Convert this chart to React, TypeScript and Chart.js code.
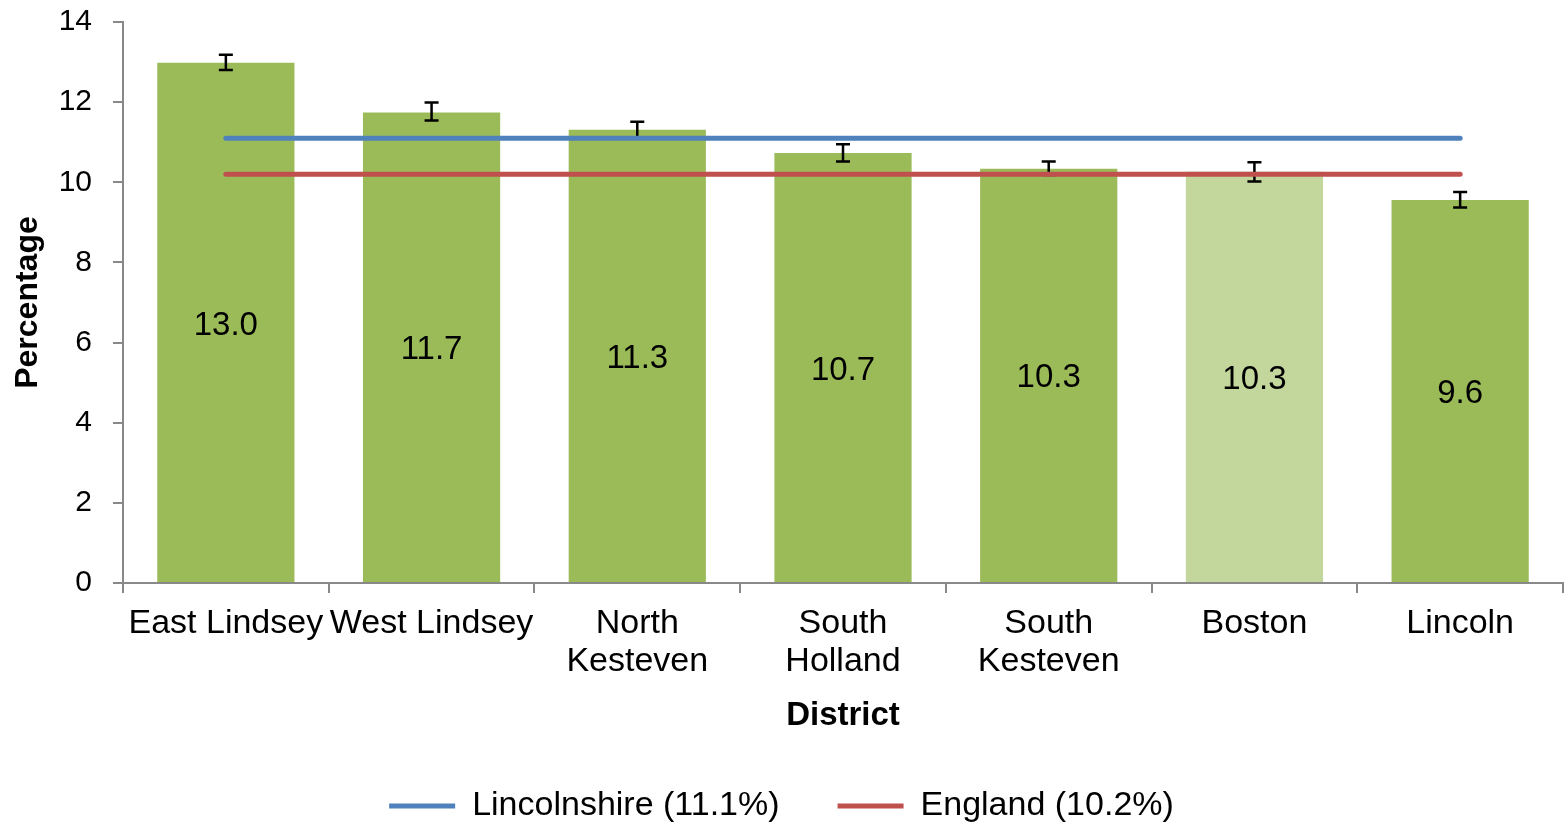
import React, { useEffect, useRef } from "react";
import { Chart, registerables } from "chart.js";

Chart.register(...registerables);

const FONT = "'Liberation Sans', Arial, sans-serif";

const categories: (string | string[])[] = [
  "East Lindsey",
  "West Lindsey",
  ["North", "Kesteven"],
  ["South", "Holland"],
  ["South", "Kesteven"],
  "Boston",
  "Lincoln",
];
const districtValues = [12.98, 11.74, 11.31, 10.73, 10.34, 10.26, 9.56];
const errorLower = [12.8, 11.54, 11.11, 10.52, 10.18, 10.02, 9.37];
const errorUpper = [13.18, 11.99, 11.51, 10.95, 10.52, 10.5, 9.76];
const barColors = ["#9BBB59", "#9BBB59", "#9BBB59", "#9BBB59", "#9BBB59", "#C3D69B", "#9BBB59"];
const lincolnshireLine = [11.1, 11.1, 11.1, 11.1, 11.1, 11.1, 11.1];
const englandLine = [10.2, 10.2, 10.2, 10.2, 10.2, 10.2, 10.2];
const lincolnshireLabel = "Lincolnshire (11.1%)";
const englandLabel = "England (10.2%)";
const yMin = 0;
const yMax = 14;
const yStep = 2;

const errorBarPlugin = {
  id: "errorBars",
  afterDatasetDraw(chart: any, args: any) {
    if (args.index !== 0) return;
    const ctx = chart.ctx;
    const yScale = chart.scales.y;
    const meta = chart.getDatasetMeta(0);
    ctx.save();
    ctx.strokeStyle = "#000";
    ctx.lineWidth = 2.5;
    meta.data.forEach((bar: any, i: number) => {
      const x = bar.x;
      const yt = yScale.getPixelForValue(errorUpper[i]);
      const yb = yScale.getPixelForValue(errorLower[i]);
      const cap = 7;
      ctx.beginPath();
      ctx.moveTo(x, yt);
      ctx.lineTo(x, yb);
      ctx.moveTo(x - cap, yt);
      ctx.lineTo(x + cap, yt);
      ctx.moveTo(x - cap, yb);
      ctx.lineTo(x + cap, yb);
      ctx.stroke();
    });
    ctx.restore();
  },
};

const dataLabelPlugin = {
  id: "dataLabels",
  afterDatasetsDraw(chart: any) {
    const ctx = chart.ctx;
    const meta = chart.getDatasetMeta(0);
    ctx.save();
    ctx.fillStyle = "#000";
    ctx.font = `33px ${FONT}`;
    ctx.textAlign = "center";
    ctx.textBaseline = "middle";
    meta.data.forEach((bar: any, i: number) => {
      const y = (bar.y + bar.base) / 2 + 3;
      ctx.fillText(districtValues[i].toFixed(1), bar.x, y);
    });
    ctx.restore();
  },
};

export default function App() {
  const canvasRef = useRef<HTMLCanvasElement | null>(null);

  useEffect(() => {
    if (!canvasRef.current) return;
    Chart.defaults.font.family = FONT;
    Chart.defaults.color = "#000";
    const chart = new Chart(canvasRef.current, {
      type: "bar",
      data: {
        labels: categories as any,
        datasets: [
          {
            type: "bar",
            label: "District",
            data: districtValues,
            backgroundColor: barColors,
            borderWidth: 0,
            categoryPercentage: 1,
            barPercentage: 0.667,
            order: 3,
          } as any,
          {
            type: "line",
            label: lincolnshireLabel,
            data: lincolnshireLine,
            borderColor: "#4F81BD",
            backgroundColor: "#4F81BD",
            borderWidth: 5,
            borderCapStyle: "round",
            pointRadius: 0,
            pointHoverRadius: 0,
            pointStyle: "line",
            fill: false,
            order: 1,
          } as any,
          {
            type: "line",
            label: englandLabel,
            data: englandLine,
            borderColor: "#C0504D",
            backgroundColor: "#C0504D",
            borderWidth: 5,
            borderCapStyle: "round",
            pointRadius: 0,
            pointHoverRadius: 0,
            pointStyle: "line",
            fill: false,
            order: 2,
          } as any,
        ],
      },
      options: {
        responsive: false,
        animation: false,
        events: [],
        layout: { padding: { top: 22, right: 1, left: 0, bottom: 0 } },
        scales: {
          x: {
            type: "category",
            offset: true,
            grid: {
              offset: true,
              drawOnChartArea: false,
              drawTicks: true,
              tickLength: 10,
              color: "#898989",
              lineWidth: 2,
            },
            border: { display: true, color: "#898989", width: 2 },
            ticks: {
              font: { size: 34, family: FONT, lineHeight: 1.12 },
              color: "#000",
              padding: 12,
              maxRotation: 0,
              autoSkip: false,
            },
            title: {
              display: true,
              text: "District",
              font: { size: 33, weight: "bold", family: FONT },
              color: "#000",
              padding: { top: 0, bottom: -5 },
            },
            afterFit(scale: any) {
              scale.height = 148;
            },
          },
          y: {
            min: yMin,
            max: yMax,
            grid: {
              drawOnChartArea: false,
              drawTicks: true,
              tickLength: 10,
              color: "#898989",
              lineWidth: 2,
            },
            border: { display: true, color: "#898989", width: 2 },
            ticks: {
              stepSize: yStep,
              font: { size: 30, family: FONT },
              color: "#000",
              padding: 21,
            },
            title: {
              display: true,
              text: "Percentage",
              font: { size: 32, weight: "bold", family: FONT },
              color: "#000",
              padding: { top: 9, bottom: 0 },
            },
            afterFit(scale: any) {
              scale.width = 123;
              scale.paddingTop = 0;
              scale.paddingBottom = 0;
            },
          },
        },
        plugins: {
          legend: {
            display: true,
            position: "bottom",
            maxHeight: 92,
            labels: {
              filter: (item: any) => item.datasetIndex !== 0,
              usePointStyle: true,
              pointStyle: "line",
              pointStyleWidth: 66,
              font: { size: 34, family: FONT },
              color: "#000",
              padding: 58,
            },
          } as any,
          tooltip: { enabled: false },
        },
      },
      plugins: [errorBarPlugin, dataLabelPlugin],
    });
    return () => chart.destroy();
  }, []);

  return (
    <div style={{ position: "absolute", left: 0, top: 0, width: 1564, height: 823, background: "#fff" }}>
      <canvas ref={canvasRef} width={1564} height={823} style={{ display: "block" }} />
    </div>
  );
}
